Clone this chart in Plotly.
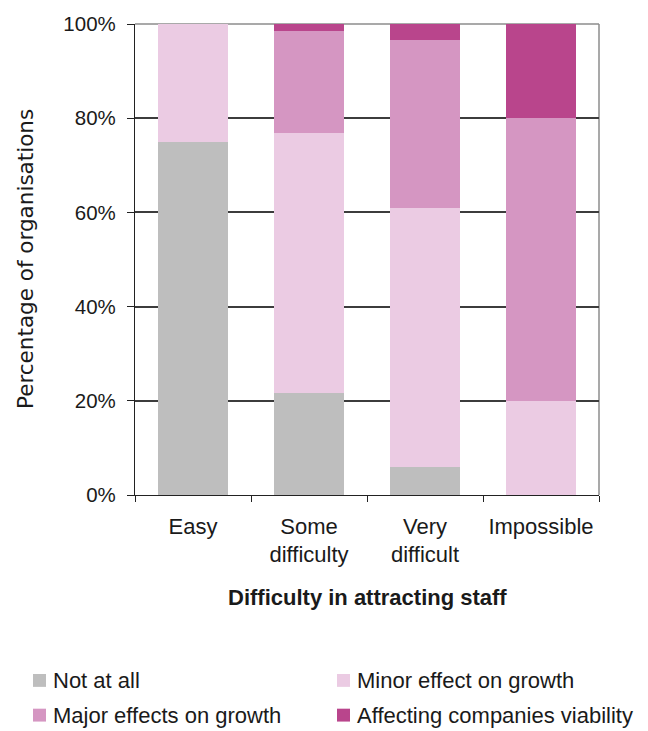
import plotly.graph_objects as go

# Survey: impact of staff-attraction difficulty on organisations (stacked %)
categories = ["Easy", "Some<br>difficulty", "Very<br>difficult", "Impossible"]
series_names = [
    "Not at all",
    "Minor effect on growth",
    "Major effects on growth",
    "Affecting companies viability",
]
not_at_all = [75, 21.7, 6, 0]
minor_effect = [25, 55.1, 55, 20]
major_effects = [0, 21.8, 35.6, 60]
viability = [0, 1.4, 3.4, 20]
colors = ["#bebebe", "#ebcbe3", "#d596c2", "#b9458c"]
y_ticks = [0, 20, 40, 60, 80, 100]
y_tick_text = ["0%", "20%", "40%", "60%", "80%", "100%"]

series_values = [not_at_all, minor_effect, major_effects, viability]

FONT = "Liberation Sans, Arial, sans-serif"
TXT = "#1a1a1a"

W, H = 648, 731
pl, pr, pt, pb = 135, 49, 20, 236
pw, ph = W - pl - pr, H - pt - pb

fig = go.Figure()
for name, vals, col in zip(series_names, series_values, colors):
    fig.add_trace(go.Bar(
        x=categories, y=vals, name=name, marker=dict(color=col, line_width=0),
        showlegend=False,
    ))

fig.update_layout(
    width=W, height=H,
    margin=dict(l=pl, r=pr, t=pt, b=pb),
    barmode="stack", bargap=0.39,
    paper_bgcolor="white", plot_bgcolor="white",
    font=dict(family=FONT, size=21, color=TXT),
)

fig.update_yaxes(
    range=[0, 100], tickmode="array", tickvals=y_ticks, ticktext=y_tick_text,
    showgrid=True, gridcolor="#3c3c3c", gridwidth=1.5,
    showline=True, linecolor="#222222", linewidth=1.2,
    ticks="outside", ticklen=7, tickcolor="#222222",
    zeroline=False, tickfont=dict(size=20.5, color=TXT), ticklabelstandoff=7,
)
fig.update_xaxes(
    showline=True, linecolor="#222222", linewidth=1.2,
    ticks="outside", ticklen=6, tickcolor="#222222", tickson="boundaries",
    ticklabelstandoff=11, tickfont=dict(size=22, color=TXT),
)

# Grey frame on the top and right of the plot area
fig.add_shape(type="line", xref="paper", yref="paper", x0=0, x1=1, y0=1, y1=1,
              line=dict(color="#8c8c8c", width=1.5), layer="below")
fig.add_shape(type="line", xref="paper", yref="paper", x0=1, x1=1, y0=0, y1=1,
              line=dict(color="#8c8c8c", width=1.5), layer="below")

# Axis titles
fig.add_annotation(text="Difficulty in attracting staff", xref="paper", yref="paper",
                   x=0.5, y=0, yshift=-117, showarrow=False,
                   font=dict(family=FONT, size=22, color=TXT, weight="bold"))
fig.add_annotation(text="Percentage of organisations", xref="paper", yref="paper",
                   x=0, y=0.5, xshift=-124, textangle=-90, showarrow=False,
                   font=dict(family="DejaVu Sans, Verdana, sans-serif", size=21.5,
                             color=TXT))

# Legend: two columns, two rows below the chart
legend_pos = [(33, 682), (337, 682), (33, 717), (337, 717)]
for (px, py), name, col in zip(legend_pos, series_names, colors):
    x0 = (px - pl) / pw
    x1 = (px + 13 - pl) / pw
    yc = (H - pb - py) / ph
    dy = 6.5 / ph
    fig.add_shape(type="rect", xref="paper", yref="paper",
                  x0=x0, x1=x1, y0=yc - dy, y1=yc + dy,
                  fillcolor=col, line_width=0)
    fig.add_annotation(text=name, xref="paper", yref="paper",
                       x=(px + 18 - pl) / pw, y=yc, xanchor="left", yanchor="middle",
                       showarrow=False, font=dict(family=FONT, size=22, color=TXT))

fig.write_html("out.html")
